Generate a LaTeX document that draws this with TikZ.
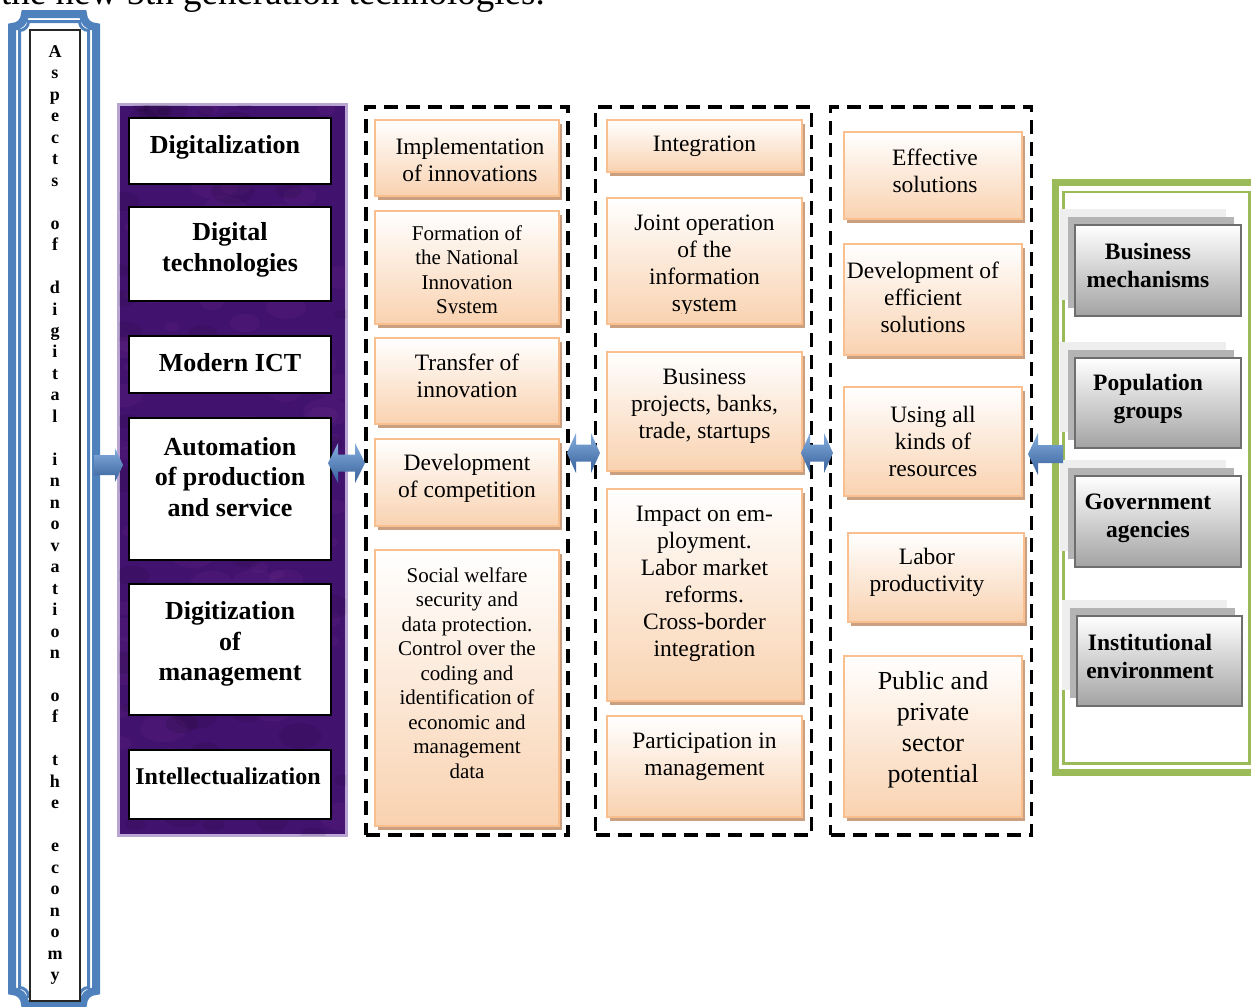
\documentclass[tikz,border=0pt]{standalone}
\usepackage{fontspec}
\setmainfont{Liberation Serif}
\usetikzlibrary{shadows}

\definecolor{frameblue}{HTML}{4F81BD}
\definecolor{arrowlight}{HTML}{86AEDF}
\definecolor{arrowdark}{HTML}{36609A}
\definecolor{panelpurple}{HTML}{42126F}
\definecolor{panelrim}{HTML}{B8A5D2}
\definecolor{peachedge}{HTML}{F9BF8F}
\definecolor{peachfill}{HTML}{F9D2B0}
\definecolor{peachshadow}{HTML}{CBA080}
\definecolor{leafgreen}{HTML}{9BBB59}
\definecolor{greyedge}{HTML}{6E6E6E}
\definecolor{greyfill}{HTML}{A3A3A3}
\definecolor{greymid}{HTML}{B4B4B4}
\definecolor{greylight}{HTML}{EEEEEE}

\tikzset{
  wbox/.style={draw=black, line width=2.5pt, fill=white, inner sep=0pt},
  btext/.style={inner sep=0pt, align=center, font=\fontsize{26}{30.5}\selectfont\bfseries},
  dashbox/.style={draw=black, line width=3.5pt, dash pattern=on 14pt off 8pt, inner sep=0pt},
  obox/.style={draw=peachedge, line width=2pt, top color=white, bottom color=peachfill, inner sep=0pt,
    drop shadow={shadow xshift=3pt, shadow yshift=-4pt, opacity=1, fill=peachshadow}},
  otext/.style={inner sep=0pt, align=center, font=\fontsize{23.5}{27}\selectfont},
  osmall/.style={inner sep=0pt, align=center, font=\fontsize{21}{24.5}\selectfont},
  gbox/.style={draw=greyedge, line width=2.5pt, top color=white, bottom color=greyfill, inner sep=0pt,
    drop shadow={shadow xshift=-15pt, shadow yshift=16pt, opacity=1, fill=greylight},
    drop shadow={shadow xshift=-7pt, shadow yshift=8pt, opacity=1, fill=greymid}},
  gtext/.style={inner sep=0pt, align=center, font=\fontsize{23.5}{28}\selectfont\bfseries},
  blockarrow/.style={top color=arrowlight, bottom color=arrowdark, draw=none},
}

\begin{document}
\begin{tikzpicture}[x=1pt,y=-1pt]
\useasboundingbox (0,0) rectangle (1251,1007);

% heading line running off the top edge
\node[anchor=base west, inner sep=0pt, font=\fontsize{37}{40}\selectfont] (heading) at (1,4)
  {the new 5th generation technologies.};

% ---------- left plaque with the vertical title ----------
\draw[frameblue, line width=8pt]
  (12,27) arc[start angle=90,end angle=0,radius=13] -- (83,14)
  arc[start angle=180,end angle=90,radius=13] -- (96,991)
  arc[start angle=270,end angle=180,radius=13] -- (25,1004)
  arc[start angle=0,end angle=-90,radius=13] -- cycle;
\draw[frameblue, line width=3pt]
  (19.5,30.5) arc[start angle=90,end angle=0,radius=9] -- (79.5,21.5)
  arc[start angle=180,end angle=90,radius=9] -- (88.5,987.5)
  arc[start angle=270,end angle=180,radius=9] -- (28.5,996.5)
  arc[start angle=0,end angle=-90,radius=9] -- cycle;
\node[draw=black!85, line width=1.2pt, fill=white, inner sep=0pt,
      minimum width=50pt, minimum height=971pt] (aspects) at (55,515.5) {};
\node[inner sep=0pt, align=center, font=\fontsize{18}{21.47}\selectfont\bfseries] (aspectst) at (55,515)
  {A\\s\\p\\e\\c\\t\\s\\~\\o\\f\\~\\d\\i\\g\\i\\t\\a\\l\\~\\i\\n\\n\\o\\v\\a\\t\\i\\o\\n\\~\\o\\f\\~\\t\\h\\e\\~\\e\\c\\o\\n\\o\\m\\y};

% ---------- purple panel ----------
\node[draw=panelrim, line width=3pt, fill=panelpurple, inner sep=0pt,
      minimum width=228pt, minimum height=730.5pt] (panel) at (232.5,470) {};
\begin{scope}
  \clip (119,105) rectangle (346,835);
  \pgfmathsetseed{11}
  \foreach \i in {1,...,110}{
    \pgfmathsetmacro\px{119+227*rnd}
    \pgfmathsetmacro\py{105+730*rnd}
    \pgfmathsetmacro\pr{6+18*rnd}
    \fill[violet!70!white, opacity=0.08] (\px,\py) ellipse [x radius=\pr, y radius=0.6*\pr];
  }
  \foreach \i in {1,...,70}{
    \pgfmathsetmacro\px{119+227*rnd}
    \pgfmathsetmacro\py{105+730*rnd}
    \pgfmathsetmacro\pr{6+16*rnd}
    \fill[black, opacity=0.09] (\px,\py) ellipse [x radius=\pr, y radius=0.6*\pr];
  }
\end{scope}

\node[wbox, minimum width=202pt, minimum height=66pt]  (digit)  at (230,151) {};
\node[btext] (digitt) at (225,147) {Digitalization};
\node[wbox, minimum width=202pt, minimum height=94pt]  (dtech)  at (230,254) {};
\node[btext] (dtecht) at (230,250) {Digital\\technologies};
\node[wbox, minimum width=202pt, minimum height=57pt]  (ict)    at (230,364.5) {};
\node[btext] (ictt) at (230,363) {Modern ICT};
\node[wbox, minimum width=202pt, minimum height=142pt] (auto)   at (230,489) {};
\node[btext] (autot) at (230,477) {Automation\\of production\\and service};
\node[wbox, minimum width=202pt, minimum height=131pt] (digman) at (230,649.5) {};
\node[btext] (digmant) at (230,644) {Digitization\\of\\management};
\node[wbox, minimum width=202pt, minimum height=69pt]  (intel)  at (230,784.5) {};
\node[btext, font=\fontsize{24}{28}\selectfont\bfseries] (intelt) at (228,776) {Intellectualization};

% ---------- dashed columns ----------
\node[dashbox, minimum width=202pt, minimum height=728pt] (col1) at (467,471) {};
\node[dashbox, minimum width=216pt, minimum height=728pt] (col2) at (703.5,471) {};
\node[dashbox, minimum width=201pt, minimum height=728pt] (col3) at (931,471) {};

% column 1
\node[obox, minimum width=184pt, minimum height=76pt]  (impl) at (467,158) {};
\node[otext] (implt) at (470,160) {Implementation\\of innovations};
\node[obox, minimum width=184pt, minimum height=113pt] (nis) at (467,267.5) {};
\begin{scope}
  \clip (375,211) rectangle (559,313);
  \node[osmall] (nist) at (467,272) {Formation of\\the National\\Innovation\\System};
\end{scope}
\node[obox, minimum width=184pt, minimum height=86pt]  (transfer) at (467,381) {};
\node[otext] (transfert) at (467,376) {Transfer of\\innovation};
\node[obox, minimum width=184pt, minimum height=87pt]  (compet) at (467,482.5) {};
\node[otext] (compett) at (467,478) {Development\\of competition};
\node[obox, minimum width=184pt, minimum height=276pt] (social) at (467,688) {};
\node[osmall] (socialt) at (467,673) {Social welfare\\security and\\data protection.\\Control over the\\coding and\\identification of\\economic and\\management\\data};

% column 2
\node[obox, minimum width=195pt, minimum height=52pt]  (integ) at (704.5,146) {};
\node[otext] (integt) at (704.5,146) {Integration};
\node[obox, minimum width=195pt, minimum height=126pt] (joint) at (704.5,261) {};
\begin{scope}
  \clip (607,198) rectangle (802,313);
  \node[otext] (jointt) at (704.5,266) {Joint operation\\of the\\information\\system};
\end{scope}
\node[obox, minimum width=195pt, minimum height=119pt] (biz) at (704.5,411.5) {};
\node[otext] (bizt) at (704.5,406) {Business\\projects, banks,\\trade, startups};
\node[obox, minimum width=195pt, minimum height=212pt] (impact) at (704.5,595) {};
\node[otext] (impactt) at (704.5,584) {Impact on em-\\ployment.\\Labor market\\reforms.\\Cross-border\\integration};
\node[obox, minimum width=195pt, minimum height=101pt] (partic) at (704.5,766.5) {};
\node[otext] (partict) at (704.5,757) {Participation in\\management};

% column 3
\node[obox, minimum width=178pt, minimum height=87pt]  (effect) at (933,175.5) {};
\node[otext] (effectt) at (935,171) {Effective\\solutions};
\node[obox, minimum width=178pt, minimum height=111pt] (devsol) at (933,299.5) {};
\node[otext] (devsolt) at (923,297) {Development of\\efficient\\solutions};
\node[obox, minimum width=178pt, minimum height=109pt] (resource) at (933,441.5) {};
\node[otext] (resourcet) at (933,441) {Using all\\kinds of\\resources};
\node[obox, minimum width=176pt, minimum height=89pt]  (labor) at (936,577.5) {};
\node[otext] (labort) at (927,572) {Labor\\productivity};
\node[obox, minimum width=178pt, minimum height=161pt] (public) at (933,736.5) {};
\node[otext, font=\fontsize{26}{31}\selectfont] (publict) at (933,730) {Public and\\private\\sector\\potential};

% ---------- green frame with grey boxes ----------
\node[draw=leafgreen, line width=7pt, inner sep=0pt, minimum width=206pt, minimum height=590pt] (envout) at (1158.5,477.5) {};
\node[draw=leafgreen, line width=2.5pt, inner sep=0pt, minimum width=186pt, minimum height=571.5pt] (envin) at (1156.5,477.75) {};

\node[gbox, minimum width=166pt, minimum height=91pt] (bizmech) at (1158,270.5) {};
\node[gtext] (bizmecht) at (1148,265) {Business\\mechanisms};
\node[gbox, minimum width=166pt, minimum height=90pt] (popgr) at (1158,403) {};
\node[gtext] (popgrt) at (1148,399) {Population\\groups};
\node[gbox, minimum width=166pt, minimum height=91pt] (gov) at (1158,521.5) {};
\node[gtext] (govt) at (1148,518) {Government\\agencies};
\node[gbox, minimum width=165pt, minimum height=90pt] (inst) at (1159.5,661) {};
\node[gtext] (instt) at (1150,656) {Institutional\\environment};

% ---------- block arrows ----------
\shade[blockarrow] (94,455) -- (115,455) -- (115,448) -- (123,465) -- (115,482) -- (115,475) -- (94,475) -- cycle;
\shade[blockarrow] (328,463) -- (338,443) -- (338,454.5) -- (355,454.5) -- (355,443) -- (365,463)
  -- (355,483) -- (355,471.5) -- (338,471.5) -- (338,483) -- cycle;
\shade[blockarrow] (567,453) -- (576,433) -- (576,444.5) -- (591,444.5) -- (591,433) -- (600,453)
  -- (591,473) -- (591,461.5) -- (576,461.5) -- (576,473) -- cycle;
\shade[blockarrow] (801,453) -- (810,433) -- (810,444.5) -- (824,444.5) -- (824,433) -- (833,453)
  -- (824,473) -- (824,461.5) -- (810,461.5) -- (810,473) -- cycle;
\shade[blockarrow] (1028,454) -- (1038,433) -- (1038,445) -- (1063,445) -- (1063,463) -- (1038,463) -- (1038,475) -- cycle;

\end{tikzpicture}
\end{document}
